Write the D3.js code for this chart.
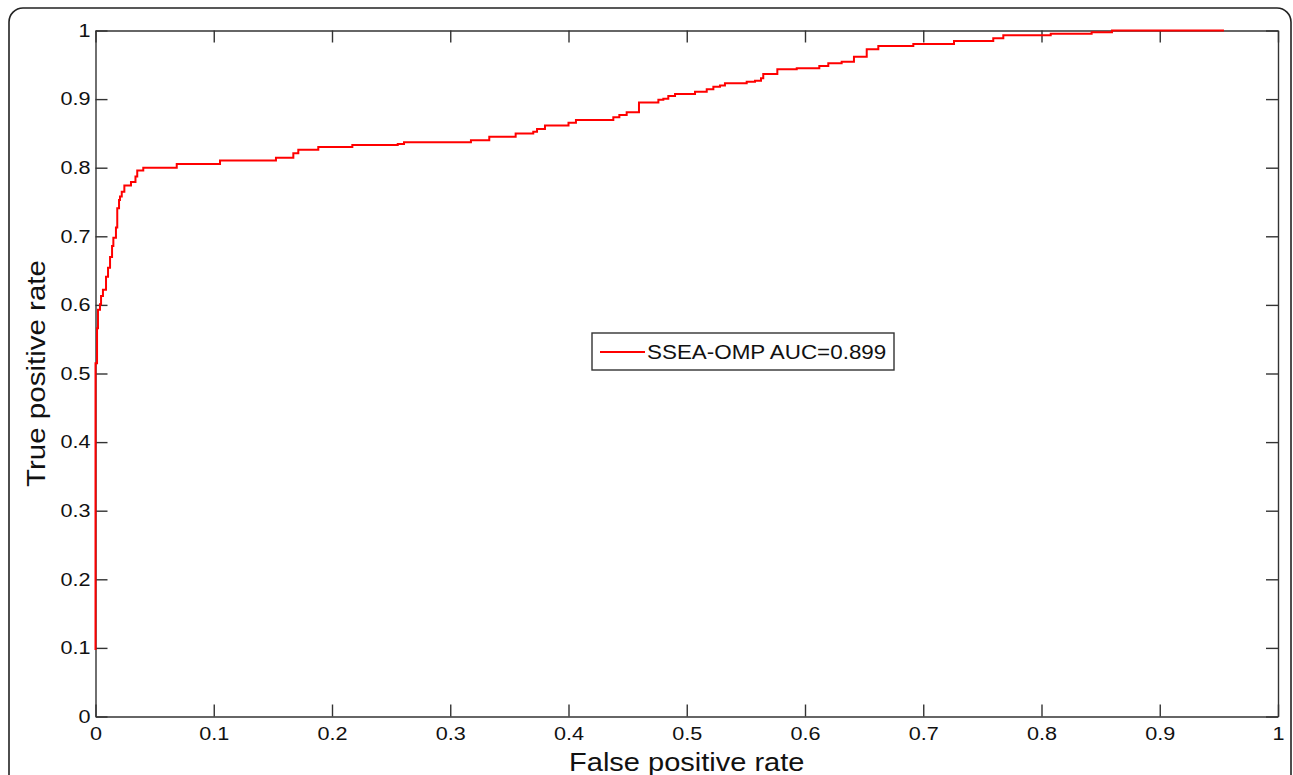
<!DOCTYPE html>
<html>
<head>
<meta charset="utf-8">
<script src="https://cdn.jsdelivr.net/npm/d3@7/dist/d3.min.js"></script>
<style>
  body { margin: 0; background: #fff; }
  svg { display: block; font-family: "Liberation Sans", Arial, sans-serif; }
</style>
</head>
<body>
<svg id="roc"></svg>
<script>
// ROC curve: step points (fpr, tpr)
var fpr = [0, 0, 0.0013, 0.0021, 0.0038, 0.0047, 0.0063, 0.0089, 0.0106, 0.0123,
  0.0140, 0.0151, 0.0173, 0.0184, 0.0199, 0.0207, 0.0222, 0.0244, 0.0300, 0.0338,
  0.0353, 0.0404, 0.0687, 0.1053, 0.1526, 0.1673, 0.1715, 0.1884, 0.2172, 0.2556,
  0.2609, 0.3175, 0.3330, 0.3553, 0.3702, 0.3734, 0.3801, 0.4000, 0.4063, 0.4379,
  0.4430, 0.4492, 0.4596, 0.4760, 0.4802, 0.4844, 0.4901, 0.5070, 0.5169, 0.5225,
  0.5281, 0.5323, 0.5507, 0.5577, 0.5628, 0.5647, 0.5766, 0.5930, 0.6121, 0.6197,
  0.6310, 0.6414, 0.6522, 0.6620, 0.6916, 0.7260, 0.7592, 0.7677, 0.8078, 0.8424,
  0.8596, 0.9543];
var tpr = [0.097, 0.515, 0.566, 0.593, 0.601, 0.613, 0.622, 0.641, 0.654, 0.670,
  0.686, 0.698, 0.713, 0.741, 0.753, 0.758, 0.765, 0.774, 0.779, 0.787,
  0.796, 0.800, 0.8054, 0.8105, 0.8146, 0.821, 0.826, 0.830, 0.833, 0.8345,
  0.837, 0.840, 0.845, 0.850, 0.8525, 0.8564, 0.8615, 0.8656, 0.8695, 0.8735,
  0.877, 0.881, 0.895, 0.899, 0.9006, 0.9045, 0.9074, 0.9108, 0.9143, 0.918,
  0.920, 0.923, 0.9254, 0.9268, 0.9303, 0.9366, 0.9434, 0.9449, 0.9483, 0.9522,
  0.9545, 0.9618, 0.9726, 0.9774, 0.9803, 0.9847, 0.9886, 0.993, 0.9953, 0.9974,
  1.0, 1.0];
var ticks = [0, 0.1, 0.2, 0.3, 0.4, 0.5, 0.6, 0.7, 0.8, 0.9, 1];
var tickLabels = ["0", "0.1", "0.2", "0.3", "0.4", "0.5", "0.6", "0.7", "0.8", "0.9", "1"];
var seriesName = "SSEA-OMP AUC=0.899";
var xTitle = "False positive rate", yTitle = "True positive rate";

var width = 1293, height = 775;
// plot box in pixels (note: "top" is reserved on window, so use pTop etc.)
var pLeft = 95.5, pRight = 1278, pTop = 30.5, pBottom = 716.5;
var axisCol = "#333";

var svg = d3.select("#roc").attr("width", width).attr("height", height);

// the original font runs wider than Liberation Sans, stretch text along its baseline
function widen(sel, k) {
  sel.each(function() {
    var len = this.getComputedTextLength();
    d3.select(this).attr("textLength", len * k).attr("lengthAdjust", "spacingAndGlyphs");
  });
}

// outer rounded frame (bottom runs off the page)
svg.append("rect")
  .attr("x", 9).attr("y", 8)
  .attr("width", 1282).attr("height", 800)
  .attr("rx", 14)
  .attr("fill", "none").attr("stroke", "#222").attr("stroke-width", 1.6);

var x = d3.scaleLinear().domain([0, 1]).range([pLeft, pRight]);
var y = d3.scaleLinear().domain([0, 1]).range([pBottom, pTop]);

var fmt = function(d) { return tickLabels[ticks.indexOf(d)]; };

function styleAxis(g) {
  g.attr("font-size", null).attr("font-family", null);
  g.select(".domain").attr("stroke", axisCol).attr("stroke-width", 1.4);
  g.selectAll(".tick line").attr("stroke", axisCol).attr("stroke-width", 1.4);
  g.selectAll(".tick text").attr("fill", "#111").style("font-size", "18px")
    .call(widen, 1.2);
}

svg.append("g").attr("transform", "translate(0," + pBottom + ")")
  .call(d3.axisBottom(x).tickValues(ticks).tickFormat(fmt).tickSizeInner(-12).tickSizeOuter(0).tickPadding(11))
  .call(styleAxis);
svg.append("g").attr("transform", "translate(0," + pTop + ")")
  .call(d3.axisTop(x).tickValues(ticks).tickFormat("").tickSizeInner(-12).tickSizeOuter(0))
  .call(styleAxis);
svg.append("g").attr("transform", "translate(" + pLeft + ",0)")
  .call(d3.axisLeft(y).tickValues(ticks).tickFormat(fmt).tickSizeInner(-12).tickSizeOuter(0).tickPadding(5))
  .call(styleAxis);
svg.append("g").attr("transform", "translate(" + pRight + ",0)")
  .call(d3.axisRight(y).tickValues(ticks).tickFormat("").tickSizeInner(-12).tickSizeOuter(0))
  .call(styleAxis);

// curve
var pts = fpr.map(function(d, i) { return [d, tpr[i]]; });
var line = d3.line()
  .x(function(d) { return x(d[0]); })
  .y(function(d) { return y(d[1]); })
  .curve(d3.curveStepAfter);

svg.append("path")
  .datum(pts)
  .attr("d", line)
  .attr("fill", "none")
  .attr("stroke", "#ff0000")
  .attr("stroke-width", 2);

// axis titles
svg.append("text")
  .attr("x", (pLeft + pRight) / 2).attr("y", 771)
  .attr("text-anchor", "middle")
  .style("font-size", "25px").attr("fill", "#111")
  .text(xTitle)
  .call(widen, 1.16);

svg.append("text")
  .attr("transform", "translate(45," + (pTop + pBottom) / 2 + ") rotate(-90)")
  .attr("text-anchor", "middle")
  .style("font-size", "25px").attr("fill", "#111")
  .text(yTitle)
  .call(widen, 1.18);

// legend
var lg = svg.append("g").attr("transform", "translate(592,333)");
lg.append("rect")
  .attr("width", 302).attr("height", 37)
  .attr("fill", "#fff").attr("stroke", axisCol).attr("stroke-width", 1.4);
lg.append("line")
  .attr("x1", 8).attr("x2", 53).attr("y1", 19).attr("y2", 19)
  .attr("stroke", "#ff0000").attr("stroke-width", 2);
lg.append("text")
  .attr("x", 55).attr("y", 26)
  .style("font-size", "20px").attr("fill", "#111")
  .text(seriesName)
  .call(widen, 1.12);
</script>
</body>
</html>
